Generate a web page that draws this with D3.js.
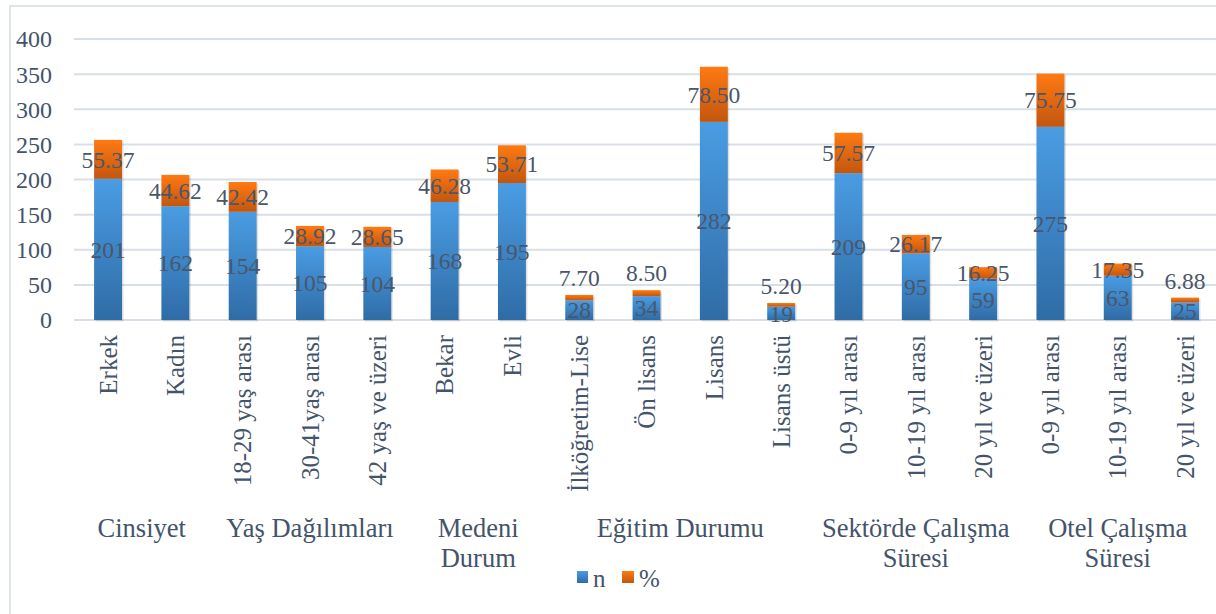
<!DOCTYPE html>
<html>
<head>
<meta charset="utf-8">
<script src="https://cdn.jsdelivr.net/npm/d3@7"></script>
<style>
  body { margin: 0; background: #fff; }
</style>
</head>
<body>
<div id="container"></div>
<script>
// categories, in chart order
var categories = ["Erkek", "Kadın", "18-29 yaş arası", "30-41yaş arası", "42 yaş ve üzeri",
  "Bekar", "Evli", "İlköğretim-Lise", "Ön lisans", "Lisans", "Lisans üstü",
  "0-9 yıl arası", "10-19 yıl arası", "20 yıl ve üzeri",
  "0-9 yıl arası", "10-19 yıl arası", "20 yıl ve üzeri"];

var nValues = [201, 162, 154, 105, 104, 168, 195, 28, 34, 282, 19, 209, 95, 59, 275, 63, 25];
var pctValues = [55.37, 44.62, 42.42, 28.92, 28.65, 46.28, 53.71, 7.70, 8.50, 78.50, 5.20, 57.57, 26.17, 16.25, 75.75, 17.35, 6.88];

// groups: label lines, first index, last index
var groupNames = [["Cinsiyet"], ["Yaş Dağılımları"], ["Medeni", "Durum"], ["Eğitim Durumu"],
  ["Sektörde Çalışma", "Süresi"], ["Otel Çalışma", "Süresi"]];
var groupStart = [0, 2, 5, 7, 11, 14];
var groupEnd = [1, 4, 6, 10, 13, 16];

var yTicks = [0, 50, 100, 150, 200, 250, 300, 350, 400];

var W = 1216, H = 614;
var FONT = "Liberation Serif";
var TXT = "#44546A";

var svg = d3.select("#container").append("svg")
  .attr("width", W)
  .attr("height", H);

var defs = svg.append("defs");
function grad(id, top, bottom){
  var g = defs.append("linearGradient").attr("id", id)
    .attr("x1", 0).attr("y1", 0).attr("x2", 0).attr("y2", 1);
  g.append("stop").attr("offset", "0%").attr("stop-color", top);
  g.append("stop").attr("offset", "100%").attr("stop-color", bottom);
}
grad("gBlue", "#4a9ce3", "#2f6ca6");
grad("gOrange", "#ff7a12", "#c2560f");

// chart border
svg.append("rect")
  .attr("x", 10).attr("y", 6)
  .attr("width", W + 20).attr("height", H + 20)
  .attr("fill", "none")
  .attr("stroke", "#dde3ea")
  .attr("stroke-width", 2);

var x = d3.scaleBand()
  .domain(d3.range(categories.length))
  .range([74.4, 1218.7])
  .paddingInner(0.585)
  .paddingOuter(0.2925);

var y = d3.scaleLinear().domain([0, 400]).range([320, 39]);

// gridlines
svg.append("g").selectAll("line")
  .data(yTicks)
  .enter().append("line")
    .attr("x1", 74).attr("x2", W)
    .attr("y1", function(d){ return y(d); })
    .attr("y2", function(d){ return y(d); })
    .attr("stroke", "#d9dfe7")
    .attr("stroke-width", 2);

// y axis labels
svg.append("g").selectAll("text")
  .data(yTicks)
  .enter().append("text")
    .attr("x", 52)
    .attr("y", function(d){ return y(d); })
    .attr("dy", "0.35em")
    .attr("text-anchor", "end")
    .attr("font-family", FONT)
    .attr("font-size", 24)
    .attr("fill", TXT)
    .text(function(d){ return d; });

var idx = d3.range(categories.length);

// soft shadow behind each stacked bar
svg.append("g").selectAll("rect")
  .data(idx)
  .enter().append("rect")
    .attr("x", function(i){ return x(i) + 1.5; })
    .attr("width", x.bandwidth())
    .attr("y", function(i){ return y(nValues[i] + pctValues[i]) + 1.5; })
    .attr("height", function(i){ return y(0) - y(nValues[i] + pctValues[i]); })
    .attr("fill", "#000")
    .attr("opacity", 0.12);

// n bars
svg.append("g").selectAll("rect")
  .data(idx)
  .enter().append("rect")
    .attr("x", function(i){ return x(i); })
    .attr("width", x.bandwidth())
    .attr("y", function(i){ return y(nValues[i]); })
    .attr("height", function(i){ return y(0) - y(nValues[i]); })
    .attr("fill", "url(#gBlue)");

// % bars stacked on top
svg.append("g").selectAll("rect")
  .data(idx)
  .enter().append("rect")
    .attr("x", function(i){ return x(i); })
    .attr("width", x.bandwidth())
    .attr("y", function(i){ return y(nValues[i] + pctValues[i]); })
    .attr("height", function(i){ return y(nValues[i]) - y(nValues[i] + pctValues[i]); })
    .attr("fill", "url(#gOrange)");

// data labels
var lbl = svg.append("g");
lbl.selectAll(".nl")
  .data(idx)
  .enter().append("text")
    .attr("class", "nl")
    .attr("x", function(i){ return x(i) + x.bandwidth() / 2; })
    .attr("y", function(i){ return y(nValues[i] / 2); })
    .attr("dy", "0.35em")
    .attr("text-anchor", "middle")
    .attr("font-family", FONT)
    .attr("font-size", 23.5)
    .attr("fill", "#4a566b")
    .text(function(i){ return nValues[i]; });

lbl.selectAll(".pl")
  .data(idx)
  .enter().append("text")
    .attr("class", "pl")
    .attr("x", function(i){ return x(i) + x.bandwidth() / 2; })
    .attr("y", function(i){
      var v = y(nValues[i] + pctValues[i] / 2);
      // small segments: label sits just above the bar
      if (pctValues[i] < 12) v = y(nValues[i] + pctValues[i]) - 17;
      return v;
    })
    .attr("dy", "0.35em")
    .attr("text-anchor", "middle")
    .attr("font-family", FONT)
    .attr("font-size", 23.5)
    .attr("fill", "#4a566b")
    .text(function(i){ return d3.format(".2f")(pctValues[i]); });

// category labels (rotated)
svg.append("g").selectAll("text")
  .data(idx)
  .enter().append("text")
    .attr("transform", function(i){
      return "translate(" + (x(i) + x.bandwidth() / 2) + ",335) rotate(-90)";
    })
    .attr("dy", "0.35em")
    .attr("text-anchor", "end")
    .attr("font-family", FONT)
    .attr("font-size", 25)
    .attr("fill", TXT)
    .text(function(i){ return categories[i]; });

// group labels
var gl = svg.append("g").selectAll("text")
  .data(d3.range(groupNames.length))
  .enter().append("text")
    .attr("x", function(g){
      return (x(groupStart[g]) + x(groupEnd[g]) + x.bandwidth()) / 2;
    })
    .attr("y", 537)
    .attr("text-anchor", "middle")
    .attr("font-family", FONT)
    .attr("font-size", 26.5)
    .attr("fill", TXT);
gl.selectAll("tspan")
  .data(function(g){ return groupNames[g]; })
  .enter().append("tspan")
    .attr("x", function(){ return d3.select(this.parentNode).attr("x"); })
    .attr("dy", function(d, k){ return k === 0 ? 0 : 30; })
    .text(function(d){ return d; });

// legend
var legend = svg.append("g").attr("transform", "translate(577,577)");
legend.append("rect").attr("x", 0).attr("y", -6).attr("width", 11).attr("height", 12).attr("fill", "url(#gBlue)");
legend.append("text").attr("x", 16).attr("y", 0).attr("dy", "0.4em")
  .attr("font-family", FONT).attr("font-size", 25).attr("fill", TXT).text("n");
legend.append("rect").attr("x", 45).attr("y", -6).attr("width", 12).attr("height", 12).attr("fill", "url(#gOrange)");
legend.append("text").attr("x", 62).attr("y", 0).attr("dy", "0.4em")
  .attr("font-family", FONT).attr("font-size", 25).attr("fill", TXT).text("%");
</script>
</body>
</html>
